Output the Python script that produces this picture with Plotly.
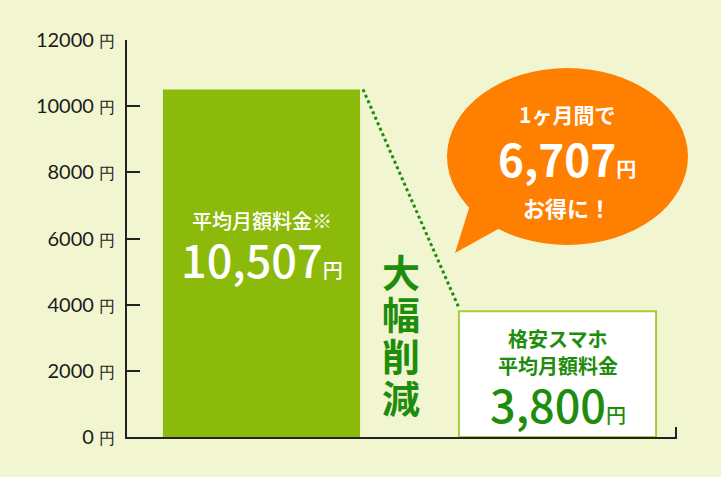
import plotly.graph_objects as go

# data
plans = ["平均月額料金", "格安スマホ平均月額料金"]
fees = [10507, 3800]
tick_vals = [0, 2000, 4000, 6000, 8000, 10000, 12000]
tick_text = [f"{v} <span style='font-size:16px'>円</span>" for v in tick_vals]
saving = fees[0] - fees[1]

BG = "#F2F6D0"
GREEN = "#8CBA0A"
DARK_GREEN = "#1E8C0C"
ORANGE = "#FF7F00"
JP = "Noto Sans CJK JP"

W, H = 721, 477
L, R, T, B = 127, 44, 40, 40
bar_w = 0.666

# pixel -> paper helpers for the decorations
def px(x):
    return (x - L) / (W - L - R)

def py(y):
    return 1 - (y - T) / (H - T - B)

fig = go.Figure()

fig.add_trace(go.Bar(
    x=[0, 1], y=fees, width=bar_w,
    marker=dict(color=[GREEN, "white"],
                line=dict(color=["rgba(0,0,0,0)", "#A6CC3C"], width=2)),
    hoverinfo="skip", showlegend=False,
))

# dotted guide from top of first bar to top of second
fig.add_trace(go.Scatter(
    x=[bar_w / 2 + 0.01, 1 - bar_w / 2], y=[fees[0], fees[1] + 100],
    mode="lines", line=dict(color=DARK_GREEN, width=3, dash="dot"),
    hoverinfo="skip", showlegend=False,
))

shapes = [
    # speech bubble
    dict(type="circle", xref="paper", yref="paper",
         x0=px(447), x1=px(688), y0=py(245), y1=py(68),
         fillcolor=ORANGE, line=dict(width=0), layer="above"),
    dict(type="path", xref="paper", yref="paper",
         path=f"M {px(470)} {py(205)} L {px(455)} {py(253)} L {px(500)} {py(228)} Z",
         fillcolor=ORANGE, line=dict(width=0), layer="above"),
    # small end tick on the x axis
    dict(type="line", xref="paper", yref="paper",
         x0=px(676), x1=px(676), y0=py(437), y1=py(427),
         line=dict(color="#222", width=2)),
]

yen = "<span style='font-size:20px'>円</span>"
annotations = [
    dict(x=0, y=6555, xref="x", yref="y", text="平均月額料金※",
         font=dict(family=JP, size=20, color="white", weight=500)),
    dict(x=0, y=5400, xref="x", yref="y", text=f"{fees[0]:,}{yen}",
         font=dict(family=JP, size=45, color="white", weight=500)),
    dict(x=1, y=2985, xref="x", yref="y", text="格安スマホ",
         font=dict(family=JP, size=20, color=DARK_GREEN, weight=700)),
    dict(x=1, y=2169, xref="x", yref="y", text="平均月額料金",
         font=dict(family=JP, size=20, color=DARK_GREEN, weight=700)),
    dict(x=1, y=1020, xref="x", yref="y", text=f"{fees[1]:,}{yen}",
         font=dict(family=JP, size=45, color=DARK_GREEN, weight=500)),
    dict(x=px(567), y=py(114), xref="paper", yref="paper", text="1ヶ月間で",
         font=dict(family=JP, size=21, color="white", weight=700)),
    dict(x=px(567), y=py(158), xref="paper", yref="paper", text=f"{saving:,}{yen}",
         font=dict(family=JP, size=44, color="white", weight=600)),
    dict(x=px(567), y=py(207), xref="paper", yref="paper", text="お得に！",
         font=dict(family=JP, size=22, color="white", weight=700)),
]
# vertical caption between the bars
for ch, yy in zip("大幅削減", [270, 312, 354, 396]):
    annotations.append(dict(x=px(401), y=py(yy), xref="paper", yref="paper", text=ch,
                            font=dict(family=JP, size=38, color=DARK_GREEN, weight=700)))
for a in annotations:
    a["showarrow"] = False
    a["xanchor"] = "center"
    a["yanchor"] = "middle"

fig.update_layout(
    width=W, height=H,
    margin=dict(l=L, r=R, t=T, b=B),
    paper_bgcolor=BG, plot_bgcolor=BG,
    shapes=shapes, annotations=annotations,
    xaxis=dict(range=[-0.4544, 1.4037], showgrid=False, zeroline=False,
               showticklabels=False, ticks="", showline=True,
               linecolor="#222", linewidth=2, fixedrange=True),
    yaxis=dict(range=[0, 12000], tickvals=tick_vals, ticktext=tick_text,
               ticks="inside", ticklen=13, tickwidth=2, tickcolor="#222",
               showgrid=False, zeroline=False, showline=True,
               linecolor="#222", linewidth=2, ticklabelstandoff=6,
               tickfont=dict(family="Lato", size=20, color="#1a1a1a"),
               fixedrange=True),
)

fig.write_html("out.html", config={"displayModeBar": False},
               post_script="document.body.style.margin='0';")
